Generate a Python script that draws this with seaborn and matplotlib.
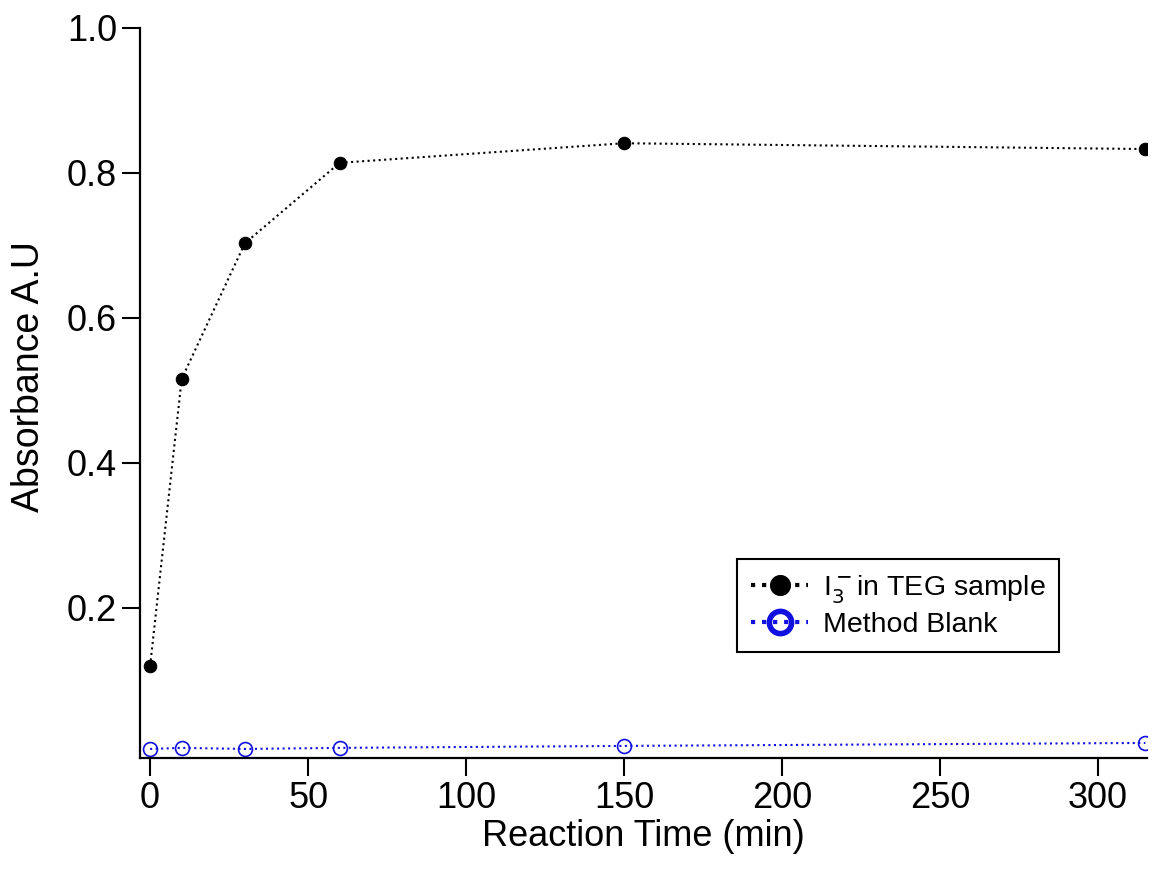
import matplotlib
matplotlib.use("Agg")
import matplotlib.pyplot as plt
import seaborn as sns
import pandas as pd

# reaction time (min) and absorbance
time_min = [0, 10, 30, 60, 150, 315]
teg_abs = [0.120, 0.516, 0.703, 0.814, 0.841, 0.833]
blank_abs = [0.0055, 0.007, 0.0055, 0.007, 0.0097, 0.0138]

sns.set_style("ticks")
plt.rcParams['font.family'] = ['Liberation Sans', 'DejaVu Sans']
plt.rcParams['text.color'] = 'black'
plt.rcParams['axes.labelcolor'] = 'black'

df = pd.DataFrame({"time": time_min, "teg": teg_abs, "blank": blank_abs})

fig = plt.figure(figsize=(11.55, 8.74), dpi=100)
ax = fig.add_axes([0.1212, 0.1327, 0.8718, 0.8353])

sns.lineplot(data=df, x="time", y="teg", ax=ax, color="black", linestyle=":",
             linewidth=1.5, marker="o", markersize=9, markeredgecolor="black",
             markerfacecolor="black", label=r"I$_3^-$in TEG sample")
sns.lineplot(data=df, x="time", y="blank", ax=ax, color="#1010e0", linestyle=":",
             linewidth=1.5, marker="o", markersize=10, markerfacecolor="none",
             markeredgecolor="#1010e0", markeredgewidth=1.2, label="Method Blank")

ax.set_xlim(-3.2, 315.5)
ax.set_ylim(-0.007, 1.0)
ax.set_xticks([0, 50, 100, 150, 200, 250, 300])
ax.set_yticks([0.2, 0.4, 0.6, 0.8, 1.0])
ax.set_yticklabels(["0.2", "0.4", "0.6", "0.8", "1.0"])
ax.set_xlabel("Reaction Time (min)", fontsize=26, labelpad=2)
ax.set_ylabel("Absorbance A.U", fontsize=27)
ax.yaxis.set_label_coords(-0.092, 0.523)
ax.tick_params(axis="both", labelsize=26, length=13, width=1.5, direction="out",
               color="black", labelcolor="black")
sns.despine(ax=ax)
for s in ["left", "bottom"]:
    ax.spines[s].set_linewidth(1.6)
    ax.spines[s].set_color("black")

leg = ax.legend(loc="lower left", bbox_to_anchor=(0.593, 0.145), fontsize=20.5,
                frameon=True, fancybox=False, framealpha=1, edgecolor="black",
                handlelength=2.0, borderpad=0.5, labelspacing=0.25, handletextpad=0.5,
                borderaxespad=0, markerscale=1.6)
leg.get_frame().set_linewidth(1.5)
for h in leg.legend_handles:
    h.set_linewidth(3)
leg.legend_handles[1].set_markeredgewidth(4)

fig.savefig("out.png", dpi=100)
